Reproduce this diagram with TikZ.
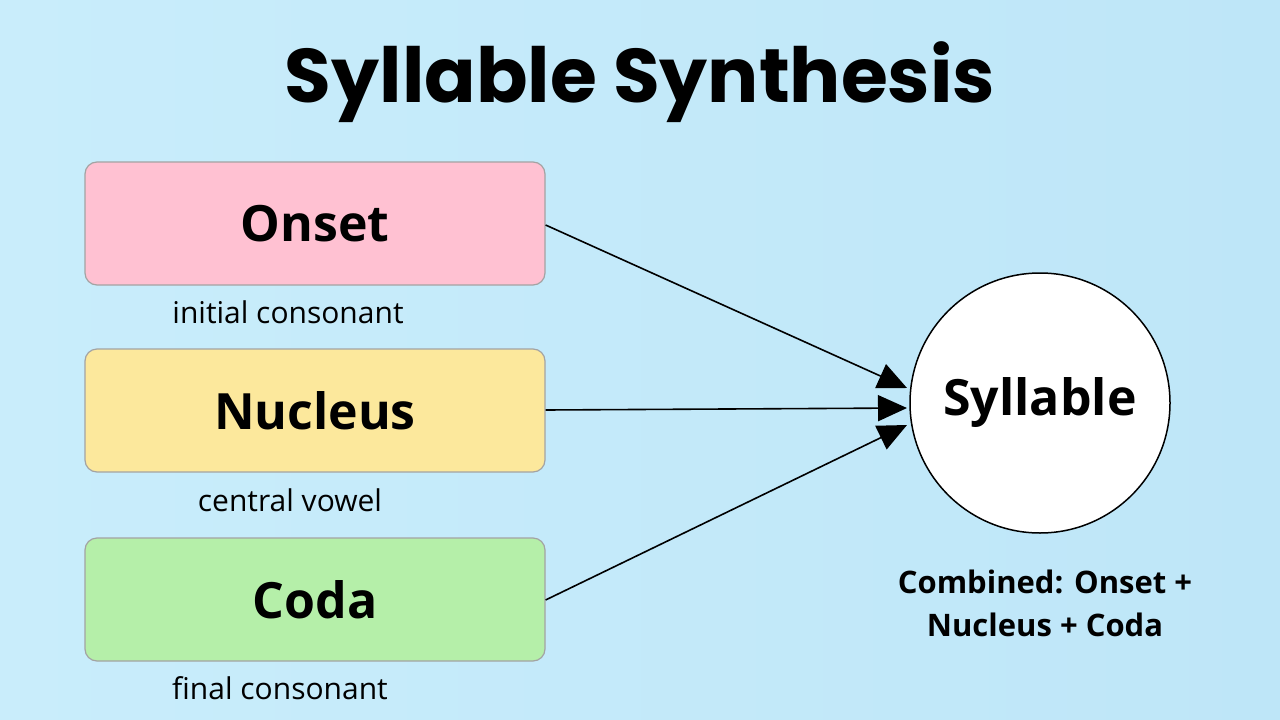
\documentclass[tikz,border=0pt]{standalone}
\usepackage{fontspec}
\setmainfont{Open Sans}
\newfontfamily\titlefont{Poppins}
\usetikzlibrary{arrows.meta}
\definecolor{bgL}{HTML}{C9EDFB}
\definecolor{bgR}{HTML}{BEE6F8}
\definecolor{pinkf}{HTML}{FFC1D2}
\definecolor{yellowf}{HTML}{FCE89C}
\definecolor{greenf}{HTML}{B5EFA9}
\definecolor{edgec}{HTML}{A3A3A3}
\tikzset{
  partbox/.style={draw=edgec, line width=1.2pt, rounded corners=12pt,
    minimum width=460pt, minimum height=123pt, inner sep=0pt,
    font=\fontsize{50}{54}\selectfont\bfseries},
  sublabel/.style={font=\fontsize{30}{34}\selectfont, inner sep=0pt},
  conn/.style={line width=1.6pt, -{Triangle[length=29pt,width=26pt]}}
}
\begin{document}
\begin{tikzpicture}[x=1pt,y=-1pt]
\shade[left color=bgL, right color=bgR] (0,0) rectangle (1280,720);
\useasboundingbox (0,0) rectangle (1280,720);
\node[font=\fontsize{76}{80}\titlefont\bfseries, inner sep=0pt] (title) at (640,82) {Syllable Synthesis};
\node[partbox, fill=pinkf] (onset) at (315,223.5) {Onset};
\node[partbox, fill=yellowf] (nucleus) at (315,410.5) {Nucleus};
\node[partbox, fill=greenf] (coda) at (315,599.5) {Coda};
\node[sublabel] (l1) at (288,312) {initial consonant};
\node[sublabel] (l2) at (290,500) {central vowel};
\node[sublabel] (l3) at (280,688) {final consonant};
\node[draw=black, line width=1.5pt, fill=white, circle, minimum size=260pt, inner sep=0pt,
  font=\fontsize{50}{54}\selectfont\bfseries] (syl) at (1040,403) {Syllable};
\node[font=\fontsize{31}{43}\selectfont\bfseries, align=center, inner sep=0pt] (comb) at (1045,603)
  {Combined: Onset +\\Nucleus + Coda};
\coordinate (t1) at (907,388);
\coordinate (t2) at (907,408);
\coordinate (t3) at (907,425);
\draw[conn] (onset.east |- 0,225) -- (t1);
\draw[conn] (nucleus.east |- 0,410) -- (t2);
\draw[conn] (coda.east |- 0,600) -- (t3);
\end{tikzpicture}
\end{document}
